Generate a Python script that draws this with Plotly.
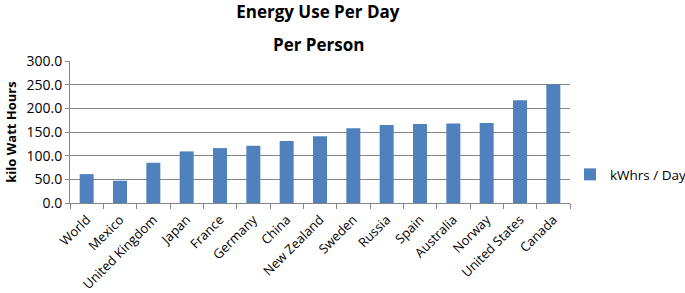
import plotly.graph_objects as go

countries = ["World", "Mexico", "United Kingdom", "Japan", "France", "Germany", "China",
             "New Zealand", "Sweden", "Russia", "Spain", "Australia", "Norway",
             "United States", "Canada"]
kwh_per_day = [61, 47, 85, 109, 116, 121, 131, 141, 158, 165, 167, 168, 169, 217, 251]
y_ticks = [0, 50, 100, 150, 200, 250, 300]
y_tick_labels = ["0.0", "50.0", "100.0", "150.0", "200.0", "250.0", "300.0"]

FONT = "Open Sans"

fig = go.Figure()
fig.add_trace(go.Bar(
    x=countries, y=kwh_per_day, name="kWhrs / Day",
    marker=dict(color="#4F81BD", line=dict(width=0)),
    showlegend=True,
))

fig.update_layout(
    template="none",
    width=685, height=293,
    margin=dict(l=70, r=115, t=61, b=90, autoexpand=False),
    paper_bgcolor="white", plot_bgcolor="white",
    font=dict(family=FONT, color="#000000"),
    bargap=0.58,
    title=dict(text="<b>Energy Use Per Day</b>", x=0.464, xanchor="center",
               y=1 - 12 / 293, yanchor="middle", font=dict(size=17, family=FONT)),
    annotations=[dict(text="<b>Per Person</b>", xref="paper", yref="paper",
                      x=0.496, y=1 + (61 - 45) / 142, xanchor="center", yanchor="middle",
                      showarrow=False, font=dict(size=17, family=FONT))],
    showlegend=True,
    legend=dict(x=1.0, y=0.2, xanchor="left", yanchor="middle",
                font=dict(size=13.5, family=FONT), itemwidth=30,
                bgcolor="rgba(0,0,0,0)", borderwidth=0),
    xaxis=dict(
        type="category", tickangle=-45, tickfont=dict(size=13, family=FONT),
        automargin=False, ticklabelstandoff=3,
        showline=True, linecolor="#868686", linewidth=1,
        ticks="outside", tickson="boundaries", ticklen=5, tickcolor="#868686",
        showgrid=False,
    ),
    yaxis=dict(
        automargin=False,
        range=[0, 300], tickvals=y_ticks, ticktext=y_tick_labels,
        tickfont=dict(size=14, family=FONT),
        showline=True, linecolor="#868686", linewidth=1,
        ticks="outside", ticklen=4, tickcolor="#868686",
        showgrid=True, gridcolor="#868686", gridwidth=1,
        zeroline=False,
        title=dict(text="<b>kilo Watt Hours</b>", font=dict(size=13, family=FONT), standoff=6),
    ),
)

fig.write_html("out.html", config={"displayModeBar": False},
               post_script="document.body.style.margin='0';document.body.style.overflow='hidden';")
